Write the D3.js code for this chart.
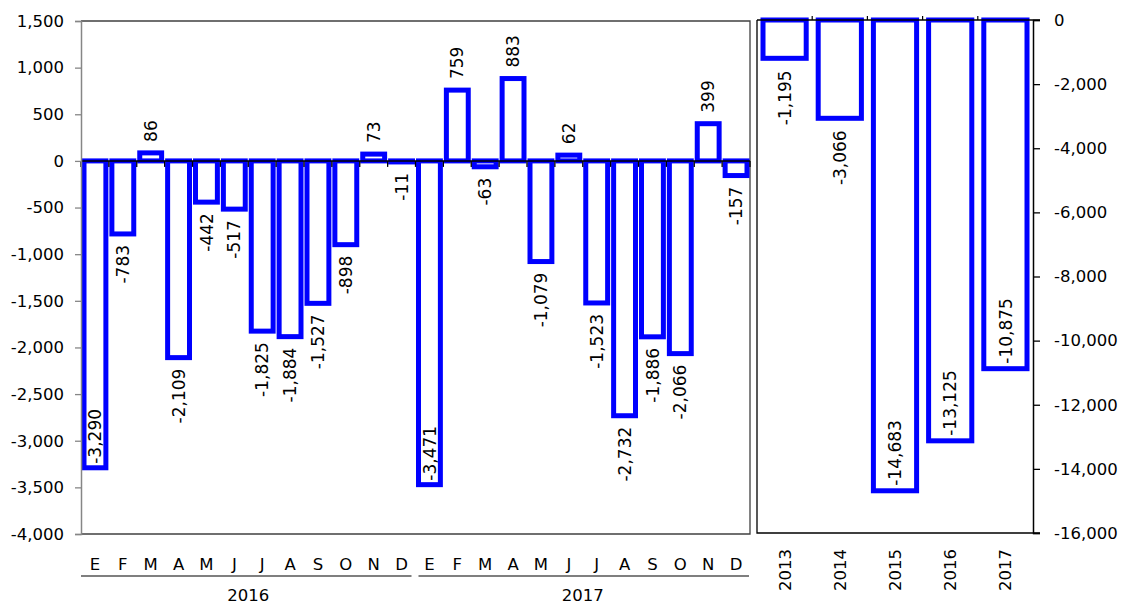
<!DOCTYPE html>
<html>
<head>
<meta charset="utf-8">
<script src="https://cdn.jsdelivr.net/npm/d3@7"></script>
<style>
  html, body { margin: 0; padding: 0; background: #fff; }
  text { font-family: "DejaVu Sans", sans-serif; fill: #000; }
</style>
</head>
<body>
<div id="chart"></div>
<script>
// ---- data ----
const months = ["E", "F", "M", "A", "M", "J", "J", "A", "S", "O", "N", "D"];
const monthYears = ["2016", "2017"];
const monthlyValues = [-3290, -783, 86, -2109, -442, -517, -1825, -1884, -1527, -898, 73, -11,
                       -3471, 759, -63, 883, -1079, 62, -1523, -2732, -1886, -2066, 399, -157];
const monthlyLabelPos = ["in", "out", "out", "out", "out", "out", "out", "out", "out", "out", "out", "out",
                         "in", "out", "out", "out", "out", "out", "out", "out", "out", "out", "out", "out"];
const leftTicks = [1500, 1000, 500, 0, -500, -1000, -1500, -2000, -2500, -3000, -3500, -4000];

const annualYears = ["2013", "2014", "2015", "2016", "2017"];
const annualValues = [-1195, -3066, -14683, -13125, -10875];
const annualLabelPos = ["out", "out", "in", "in", "in"];
const rightTicks = [0, -2000, -4000, -6000, -8000, -10000, -12000, -14000, -16000];

(function () {
  const W = 1125, H = 604;
  const blue = "#0000ff";
  const fmt = d3.formatLocale({ decimal: ".", thousands: ",", grouping: [3], currency: ["", ""], minus: "-" }).format(",");

  const svg = d3.select("#chart").append("svg")
      .attr("width", W)
      .attr("height", H);

  // ===== left panel (monthly) =====
  const L = { x0: 81, x1: 750, top: 21, bottom: 534 };
  const xL = d3.scaleBand().domain(d3.range(monthlyValues.length)).range([L.x0, L.x1]);
  const yL = d3.scaleLinear().domain([-4000, 1500]).range([L.bottom, L.top]);

  // frame (top, right, bottom)
  svg.append("path")
    .attr("d", `M${L.x0},${L.top}H${L.x1}V${L.bottom}H${L.x0}`)
    .attr("fill", "none").attr("stroke", "#404040").attr("stroke-width", 1.3);

  // bars
  svg.append("g").selectAll("rect")
    .data(monthlyValues)
    .join("rect")
      .attr("x", (d, i) => xL(i) + 3)
      .attr("width", xL.bandwidth() - 6)
      .attr("y", d => yL(Math.max(0, d)))
      .attr("height", d => Math.abs(yL(d) - yL(0)))
      .attr("fill", "#fff")
      .attr("stroke", blue)
      .attr("stroke-width", 5);

  // zero line with ticks at band edges
  const y0 = yL(0);
  svg.append("line")
    .attr("x1", L.x0).attr("x2", L.x1).attr("y1", y0).attr("y2", y0)
    .attr("stroke", "#000").attr("stroke-width", 1.5);
  svg.append("g").selectAll("line")
    .data(d3.range(monthlyValues.length + 1))
    .join("line")
      .attr("x1", i => L.x0 + i * xL.bandwidth())
      .attr("x2", i => L.x0 + i * xL.bandwidth())
      .attr("y1", y0).attr("y2", y0 + 6)
      .attr("stroke", "#000").attr("stroke-width", 1.3);

  // left y axis
  const axL = svg.append("g")
    .attr("transform", `translate(${L.x0},0)`)
    .call(d3.axisLeft(yL).tickValues(leftTicks).tickFormat(fmt).tickSize(6).tickPadding(11));
  axL.select(".domain").attr("stroke", "#868686").attr("stroke-width", 1.5);
  axL.selectAll(".tick line").attr("stroke", "#868686").attr("stroke-width", 1.3);
  axL.selectAll("text").attr("font-size", "16.5px").attr("font-family", "DejaVu Sans").attr("fill", "#000");

  // value labels (rotated)
  svg.append("g").selectAll("text")
    .data(monthlyValues)
    .join("text")
      .attr("font-size", "17px")
      .attr("text-anchor", (d, i) => (d < 0) === (monthlyLabelPos[i] === "out") ? "end" : "start")
      .attr("dy", "0.36em")
      .attr("transform", (d, i) => {
        const cx = xL(i) + xL.bandwidth() / 2;
        const out = monthlyLabelPos[i] === "out";
        let y;
        if (d < 0) y = out ? yL(d) + 11 : yL(d) - 4;
        else y = out ? yL(d) - 11 : yL(d) + 4;
        return `translate(${cx},${y}) rotate(-90)`;
      })
      .text(d => fmt(d));

  // month labels
  svg.append("g").selectAll("text")
    .data(monthlyValues)
    .join("text")
      .attr("font-size", "16.5px")
      .attr("text-anchor", "middle")
      .attr("x", (d, i) => xL(i) + xL.bandwidth() / 2)
      .attr("y", 570)
      .text((d, i) => months[i % 12]);

  // year groups: underline + label
  const yearG = svg.append("g").selectAll("g")
    .data(monthYears)
    .join("g");
  yearG.append("line")
    .attr("x1", (d, k) => xL(k * 12) + (k === 0 ? 0 : 3))
    .attr("x2", (d, k) => xL(k * 12 + 11) + xL.bandwidth() - (k === 0 ? 4 : 1))
    .attr("y1", 576).attr("y2", 576)
    .attr("stroke", "#000").attr("stroke-width", 1.2);
  yearG.append("text")
    .attr("font-size", "16.5px")
    .attr("text-anchor", "middle")
    .attr("x", (d, k) => (xL(k * 12) + xL(k * 12 + 11) + xL.bandwidth()) / 2)
    .attr("y", 601)
    .text(d => d);

  // ===== right panel (annual) =====
  const R = { x0: 757, x1: 1033, top: 20, bottom: 533 };
  const xR = d3.scaleBand().domain(annualYears).range([R.x0, R.x1]);
  const yR = d3.scaleLinear().domain([-16000, 0]).range([R.bottom, R.top]);

  svg.append("g").selectAll("rect")
    .data(annualValues)
    .join("rect")
      .attr("x", (d, i) => xR(annualYears[i]) + 6)
      .attr("width", xR.bandwidth() - 12)
      .attr("y", yR(0))
      .attr("height", d => yR(d) - yR(0))
      .attr("fill", "#fff")
      .attr("stroke", blue)
      .attr("stroke-width", 5);

  // left border + bottom line
  svg.append("path")
    .attr("d", `M${R.x0},${R.top}V${R.bottom}H${R.x1 + 7}`)
    .attr("fill", "none").attr("stroke", "#000").attr("stroke-width", 1.3);
  // top (zero) line with category ticks
  svg.append("line")
    .attr("x1", R.x0).attr("x2", R.x1 + 7).attr("y1", R.top).attr("y2", R.top)
    .attr("stroke", "#000").attr("stroke-width", 1.5);
  svg.append("g").selectAll("line")
    .data(d3.range(1, annualYears.length))
    .join("line")
      .attr("x1", i => R.x0 + i * xR.bandwidth())
      .attr("x2", i => R.x0 + i * xR.bandwidth())
      .attr("y1", R.top - 4).attr("y2", R.top)
      .attr("stroke", "#000").attr("stroke-width", 1.2);

  // right y axis
  const axR = svg.append("g")
    .attr("transform", `translate(${R.x1},0)`)
    .call(d3.axisRight(yR).tickValues(rightTicks).tickFormat(fmt).tickSize(7).tickPadding(14));
  axR.select(".domain").attr("stroke", "#000").attr("stroke-width", 1.5);
  axR.selectAll(".tick line").attr("stroke", "#000").attr("stroke-width", 1.3);
  axR.selectAll("text").attr("font-size", "16.5px").attr("font-family", "DejaVu Sans").attr("fill", "#000");

  // value labels
  svg.append("g").selectAll("text")
    .data(annualValues)
    .join("text")
      .attr("font-size", "17px")
      .attr("text-anchor", (d, i) => annualLabelPos[i] === "out" ? "end" : "start")
      .attr("dy", "0.36em")
      .attr("transform", (d, i) => {
        const cx = xR(annualYears[i]) + xR.bandwidth() / 2;
        const y = annualLabelPos[i] === "out" ? yR(d) + 12 : yR(d) - 5;
        return `translate(${cx},${y}) rotate(-90)`;
      })
      .text(d => fmt(d));

  // year labels (rotated)
  svg.append("g").selectAll("text")
    .data(annualYears)
    .join("text")
      .attr("font-size", "16.5px")
      .attr("text-anchor", "end")
      .attr("dy", "0.36em")
      .attr("transform", d => `translate(${xR(d) + xR.bandwidth() / 2},549) rotate(-90)`)
      .text(d => d);
})();
</script>
</body>
</html>
